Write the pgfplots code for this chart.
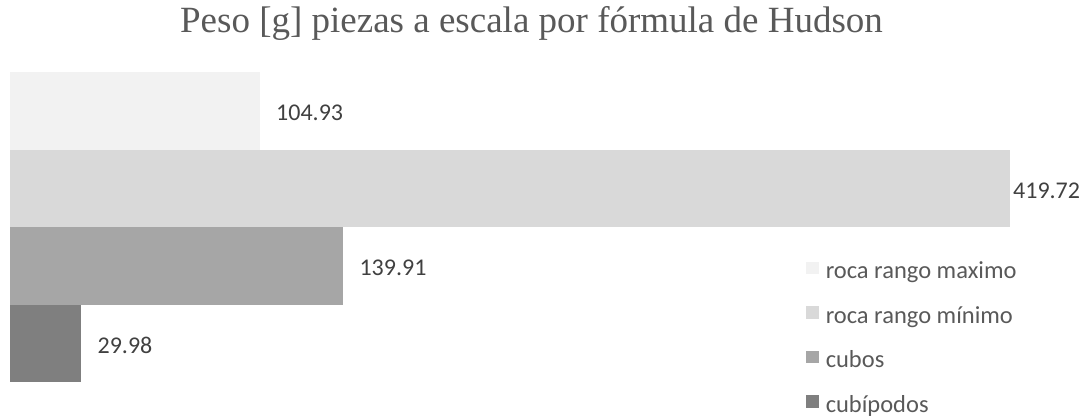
\documentclass[border=0pt]{standalone}
\usepackage{fontspec}
\setmainfont{Carlito}
\newfontfamily\titlefont{Liberation Serif}
\usepackage{pgfplots}
\pgfplotsset{compat=1.18}

\definecolor{cmax}{HTML}{F2F2F2}
\definecolor{cmin}{HTML}{D9D9D9}
\definecolor{ccub}{HTML}{A6A6A6}
\definecolor{cpod}{HTML}{7F7F7F}
\definecolor{lbl}{HTML}{404040}
\definecolor{txt}{HTML}{595959}

\begin{document}
\begin{tikzpicture}
\path[use as bounding box] (0,0) rectangle (1082bp,418bp);
\node[anchor=base, font=\titlefont\fontsize{37bp}{44bp}\selectfont, text=txt, inner sep=0pt]
  at (531.5bp,385bp) {Peso [g] piezas a escala por fórmula de Hudson};
\begin{axis}[
  at={(10bp,74.5bp)}, anchor=origin,
  x=2.3825bp, y=77.5bp,
  xmin=0, xmax=450, ymin=-0.5, ymax=3.5,
  hide axis, clip=false,
  xbar, bar width=77.5bp, bar shift=0pt,
  /pgf/number format/assume math mode=true,
  nodes near coords={\pgfmathprintnumber[fixed,precision=2,fixed zerofill]{\pgfplotspointmeta}},
  point meta=x,
  every node near coord/.append style={font=\fontsize{24bp}{28bp}\selectfont, text=lbl,
    inner sep=0pt, anchor=west, xshift=16bp, yshift=-2bp},
  legend cell align=left,
  legend image code/.code={\fill[#1] (0bp,-1bp) rectangle (12.5bp,11.5bp);},
  legend style={at={(0.7425,0.390)}, anchor=north west, draw=none, fill=none,
    inner sep=0pt, row sep=22.5bp, column sep=7bp,
    font=\fontsize{24.5bp}{28bp}\selectfont, text=txt,
    nodes={inner sep=0pt, text height=16bp, text depth=5bp}},
]
\addplot[fill=cmax, draw=none] coordinates {(104.93,3)};
\addlegendentry{roca rango maximo}
\addplot[fill=cmin, draw=none, every node near coord/.append style={xshift=-13bp}] coordinates {(419.72,2)};
\addlegendentry{roca rango mínimo}
\addplot[fill=ccub, draw=none] coordinates {(139.91,1)};
\addlegendentry{cubos}
\addplot[fill=cpod, draw=none] coordinates {(29.98,0)};
\addlegendentry{cubípodos}
\end{axis}
\end{tikzpicture}
\end{document}
